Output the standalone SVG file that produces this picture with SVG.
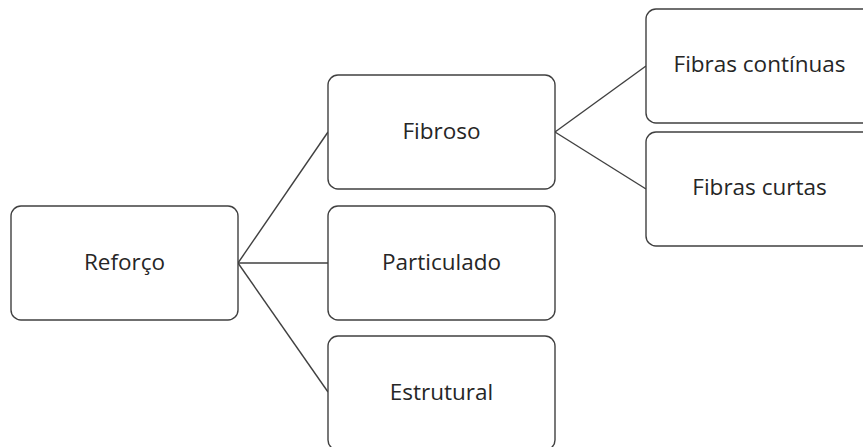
<svg xmlns="http://www.w3.org/2000/svg" width="863" height="447" viewBox="0 0 863 447">
<style>
.box{fill:#ffffff;stroke:#404040;stroke-width:1.4}
.lbl{font-family:"Open Sans","Noto Sans","Liberation Sans",sans-serif;font-size:22.5px;fill:#262626;text-anchor:middle}
.con{stroke:#404040;stroke-width:1.4;fill:none}
</style>
<rect width="863" height="447" fill="#ffffff"/>
<g id="connectors">
<line class="con" x1="238" y1="263" x2="328" y2="132"/>
<line class="con" x1="238" y1="263" x2="328" y2="263"/>
<line class="con" x1="238" y1="263" x2="328" y2="392"/>
<line class="con" x1="555" y1="132" x2="646" y2="66"/>
<line class="con" x1="555" y1="132" x2="646" y2="189"/>
</g>
<g id="reforco">
<rect class="box" x="11" y="206" width="227" height="114" rx="10"/>
<text class="lbl" x="124.5" y="270">Reforço</text>
</g>
<g id="fibroso">
<rect class="box" x="328" y="75" width="227" height="114" rx="10"/>
<text class="lbl" x="441.5" y="139">Fibroso</text>
</g>
<g id="particulado">
<rect class="box" x="328" y="206" width="227" height="114" rx="10"/>
<text class="lbl" x="441.5" y="270">Particulado</text>
</g>
<g id="estrutural">
<rect class="box" x="328" y="336" width="227" height="114" rx="10"/>
<text class="lbl" x="441.5" y="400">Estrutural</text>
</g>
<g id="fibras-continuas">
<rect class="box" x="646" y="9" width="227" height="114" rx="10"/>
<text class="lbl" x="759.5" y="72">Fibras contínuas</text>
</g>
<g id="fibras-curtas">
<rect class="box" x="646" y="132" width="227" height="114" rx="10"/>
<text class="lbl" x="759.5" y="195">Fibras curtas</text>
</g>
</svg>
